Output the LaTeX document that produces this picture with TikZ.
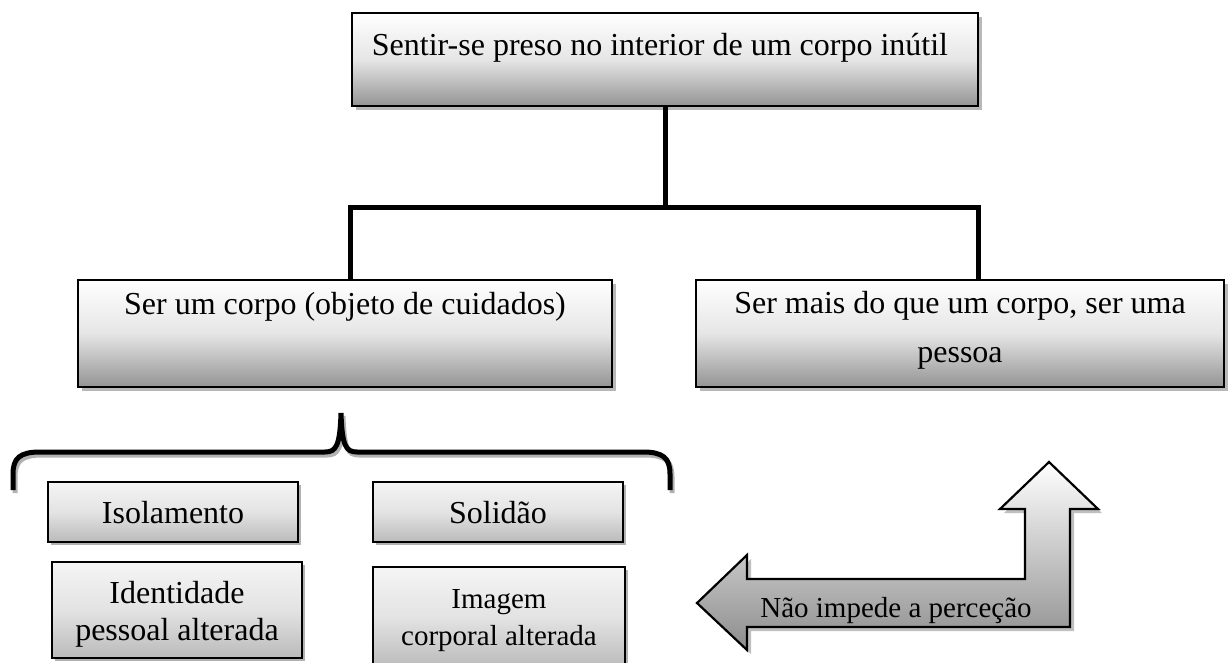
\documentclass[tikz,border=0pt]{standalone}
\usepackage{fontspec}
\setmainfont{Liberation Serif}
\usetikzlibrary{shadows}
\tikzset{
  bigbox/.style={draw, line width=2.6pt, rectangle, inner sep=0pt,
    top color=white, bottom color=black!42, middle color=black!10,
    drop shadow={shadow xshift=4pt, shadow yshift=-4pt, fill=black!28, opacity=1}},
  smallbox/.style={draw, line width=1.8pt, rectangle, inner sep=0pt,
    top color=black!4, bottom color=black!27, middle color=black!11,
    drop shadow={shadow xshift=3pt, shadow yshift=-3pt, fill=black!30, opacity=1}},
  conn/.style={line width=5pt},
  bracestyle/.style={line width=5pt,
    preaction={draw=black!30, line width=5pt, transform canvas={shift={(2pt,-3pt)}}}},
  lbl/.style={anchor=base, inner sep=0pt, font=\fontsize{32}{38}\selectfont},
  lbls/.style={anchor=base, inner sep=0pt, font=\fontsize{29}{35}\selectfont},
}
\begin{document}
\begin{tikzpicture}[x=1pt,y=-1pt]
\useasboundingbox (0,0) rectangle (1229,662);
\clip (0,0) rectangle (1229,662);

% main boxes
\node[bigbox, minimum width=626pt, minimum height=93pt] (top) at (665,59.5) {};
\node[bigbox, minimum width=534pt, minimum height=107pt] (left) at (345,333.5) {};
\node[bigbox, minimum width=528pt, minimum height=107pt] (right) at (960,333.5) {};

\node[lbl] (toptxt) at (660,55) {Sentir-se preso no interior de um corpo inútil};
\node[lbl] (lefttxt) at (345,314) {Ser um corpo (objeto de cuidados)};
\node[lbl] (righttxta) at (960,313) {Ser mais do que um corpo, ser uma};
\node[lbl] (righttxtb) at (960,362) {pessoa};

% connectors
\coordinate (jl) at (350,207);
\coordinate (jr) at (978,207);
\draw[conn] (top.south) -- (top.south |- jl);
\draw[conn] (jl |- left.north) -- (jl) -- (jr) -- (jr |- right.north);

% brace
\draw[bracestyle] (13,490) -- (13,474) .. controls (13,458) and (20,452) .. (40,452)
  -- (325,452) .. controls (336,452) and (340,446) .. (341,413)
  .. controls (342,446) and (346,452) .. (357,452)
  -- (643,452) .. controls (663,452) and (670,458) .. (670,474) -- (670,490);

% small boxes
\node[smallbox, minimum width=250pt, minimum height=60pt] (iso) at (173,512) {};
\node[smallbox, minimum width=250pt, minimum height=60pt] (sol) at (498,512) {};
\node[smallbox, minimum width=250pt, minimum height=96pt] (ident) at (177,610) {};
\node[smallbox, minimum width=252pt, minimum height=101pt] (imag) at (499,617.5) {};

\node[lbl] (isotxt) at (173,523) {Isolamento};
\node[lbl] (soltxt) at (498,523) {Solidão};
\node[lbl] (identa) at (177,603) {Identidade};
\node[lbl] (identb) at (177,640) {pessoal alterada};
\node[lbls] (imaga) at (499,608) {Imagem};
\node[lbls] (imagb) at (499,645) {corporal alterada};

% bent arrow
\path[draw, line width=2.2pt, line join=miter, top color=white, bottom color=black!45,
  drop shadow={shadow xshift=4pt, shadow yshift=-4pt, fill=black!25, opacity=1}]
  (697,603) -- (747,555) -- (747,579) -- (1025,579) -- (1025,509) -- (1000,509)
  -- (1049,462) -- (1098,509) -- (1070,509) -- (1070,627) -- (747,627) -- (747,650) -- cycle;
\node[lbls] (arrowtxt) at (896,617) {Não impede a perceção};
\end{tikzpicture}
\end{document}
